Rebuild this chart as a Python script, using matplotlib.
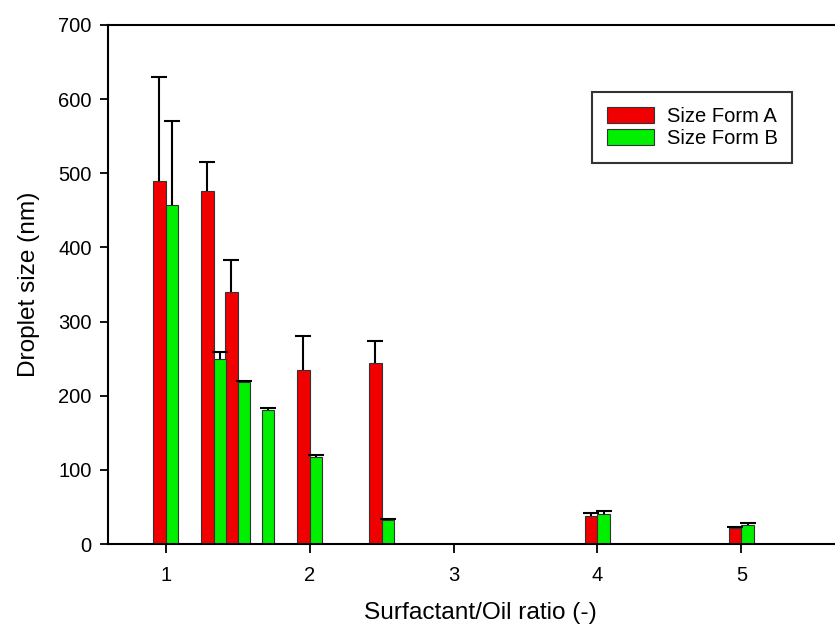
import numpy as np
import matplotlib
matplotlib.use("Agg")
import matplotlib.pyplot as plt

plt.rcParams['font.family'] = ['Liberation Sans', 'DejaVu Sans']

# surfactant/oil ratios and droplet sizes (nm), upper error only
ratio = [1.0, 1.333, 1.5, 1.667, 2.0, 2.5, 4.0, 5.0]
size_a = [490, 476, 340, np.nan, 235, 244, 38, 21]
err_a = [140, 39, 43, np.nan, 46, 30, 3.5, 2]
size_b = [457, 250, 218, 181, 118, 32, 41, 25.5]
err_b = [113, 9, 2, 3, 2, 1.5, 3.5, 3]

labels = ["Size Form A", "Size Form B"]
colors = ["#f00000", "#00f000"]

x = np.array(ratio)
w = 0.087

fig = plt.figure(figsize=(8.35, 6.29), dpi=100)
ax = fig.add_axes([108 / 835, 85 / 629, 727 / 835, 519 / 629])

for off, vals, errs, lab, col in [(-w / 2, size_a, err_a, labels[0], colors[0]),
                                  (w / 2, size_b, err_b, labels[1], colors[1])]:
    vals = np.array(vals, dtype=float)
    errs = np.array(errs, dtype=float)
    ax.bar(x + off, vals, width=w, color=col, edgecolor="#333333",
           linewidth=0.8, label=lab, zorder=2)
    _, caps, _ = ax.errorbar(x + off, vals, yerr=[np.zeros_like(errs), errs],
                             fmt="none", ecolor="black", elinewidth=1.5,
                             capsize=5.6, capthick=1.5, zorder=3)
    caps[0].set_visible(False)

ax.set_xlim(0.6, 5.65)
ax.set_ylim(0, 700)
ax.set_xticks([1, 2, 3, 4, 5])
ax.set_yticks(range(0, 701, 100))
ax.tick_params(axis="both", direction="out", labelsize=14.5, width=1.3)
ax.tick_params(axis="y", length=5.8, pad=6)
ax.tick_params(axis="x", length=6.5, pad=9)

for s in ["left", "bottom", "top"]:
    ax.spines[s].set_linewidth(1.5)
ax.spines["right"].set_visible(False)

ax.set_xlabel("Surfactant/Oil ratio (-)", fontsize=17.6)
ax.set_ylabel("Droplet size (nm)", fontsize=17.6)
ax.xaxis.set_label_coords(0.512, -0.112)
ax.yaxis.set_label_coords(-0.094, 0.5)

leg = ax.legend(loc="upper left", bbox_to_anchor=(592 / 835, 1 - 92 / 629),
                bbox_transform=fig.transFigure, fontsize=14.5, frameon=True,
                fancybox=False, shadow=False, borderaxespad=0,
                handlelength=2.35, handleheight=0.8, handletextpad=0.6,
                labelspacing=0.15, borderpad=0.75)
leg.get_frame().set_edgecolor("black")
leg.get_frame().set_linewidth(1.5)

fig.savefig("out.png", dpi=100)
